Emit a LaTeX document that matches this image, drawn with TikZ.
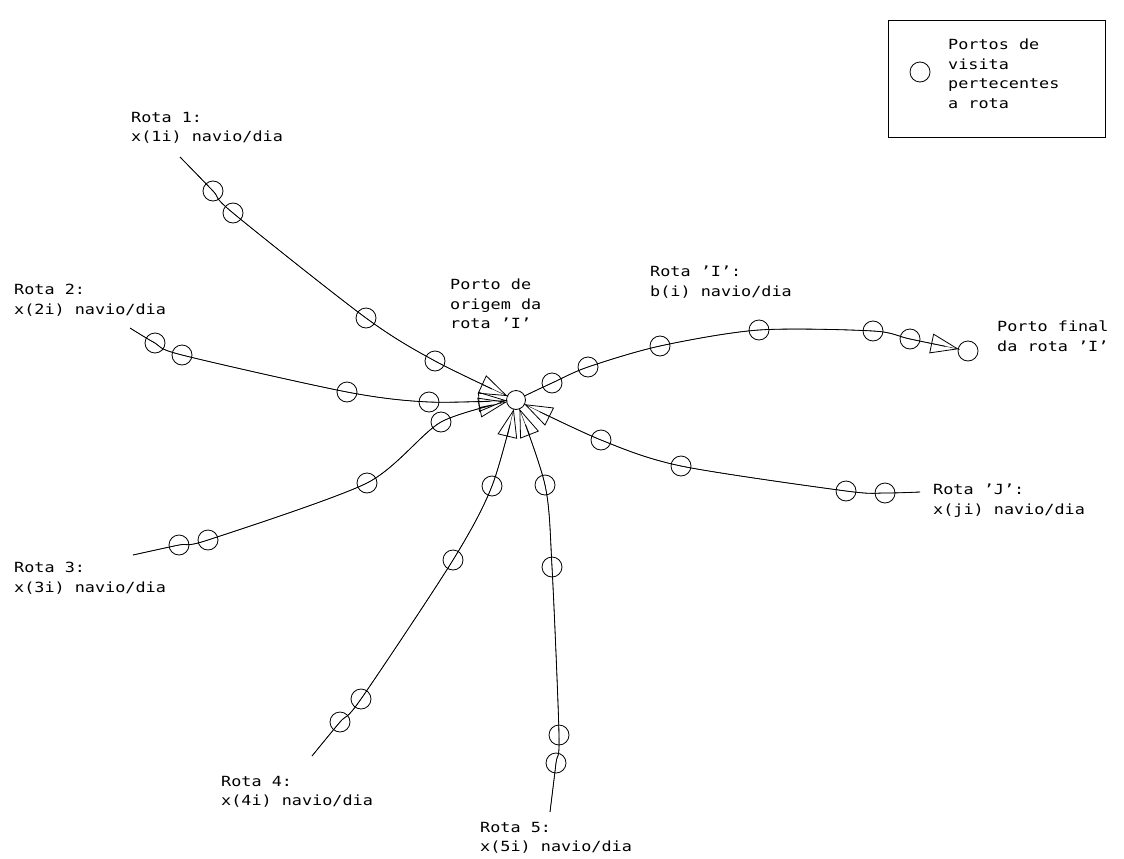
\documentclass[tikz,border=0pt]{standalone}
\usepackage{fontspec}
\setmainfont{DejaVu Sans Mono}[FakeStretch=1.2]
\usetikzlibrary{arrows.meta}
\tikzset{
  rarrow/.style={line width=0.8pt, -{Triangle[open,length=28pt,width=20pt,line width=0.8pt]}, shorten >=9.5pt, preaction={draw, arrows=-}},
  port/.style={circle, draw, line width=0.8pt, minimum size=20pt, inner sep=0pt},
  lbl/.style={anchor=north west, inner sep=0pt, align=left, font=\fontsize{14}{19.5}\selectfont},
}
\begin{document}
\begin{tikzpicture}[x=1pt,y=-1pt]
\useasboundingbox (0,0) rectangle (1124,859);

% central and final ports
\node[port, minimum size=19pt] (O) at (516,400) {};
\node[port] (F) at (968,351) {};

% route 1
\coordinate (s1) at (180,157);
\node[port] (a1) at (213,191) {};
\node[port] (a2) at (233,213) {};
\node[port] (a3) at (366,318) {};
\node[port] (a4) at (435,361) {};
\draw[rarrow] plot[smooth, tension=0.5] coordinates {(s1) (a1.center) (a2.center) (a3.center) (a4.center) (O.center)};

% route 2
\coordinate (s2) at (130,328);
\node[port] (b1) at (155,343) {};
\node[port] (b2) at (182,355) {};
\node[port] (b3) at (347,392) {};
\node[port] (b4) at (429,402) {};
\draw[rarrow] plot[smooth, tension=0.5] coordinates {(s2) (b1.center) (b2.center) (b3.center) (b4.center) (O.center)};

% route 3
\coordinate (s3) at (133,555);
\node[port] (c1) at (179,545) {};
\node[port] (c2) at (208,540) {};
\node[port] (c3) at (367,483) {};
\node[port] (c4) at (441,422) {};
\draw[rarrow] plot[smooth, tension=0.45] coordinates {(s3) (c1.center) (c2.center) (c3.center) (c4.center) (O.center)};

% route 4
\coordinate (s4) at (312,756);
\node[port] (d1) at (340,722) {};
\node[port] (d2) at (361,699) {};
\node[port] (d3) at (453,560) {};
\node[port] (d4) at (492,486) {};
\draw[rarrow] plot[smooth, tension=0.5] coordinates {(s4) (d1.center) (d2.center) (d3.center) (d4.center) (O.center)};

% route 5
\coordinate (s5) at (550,812);
\node[port] (e1) at (556,763) {};
\node[port] (e2) at (559,735) {};
\node[port] (e3) at (552,567) {};
\node[port] (e4) at (545,485) {};
\draw[rarrow] plot[smooth, tension=0.5] coordinates {(s5) (e1.center) (e2.center) (e3.center) (e4.center) (O.center)};

% route J
\coordinate (sj) at (920,492);
\node[port] (j1) at (885,493) {};
\node[port] (j2) at (846,491) {};
\node[port] (j3) at (681,466) {};
\node[port] (j4) at (601,440) {};
\draw[rarrow] plot[smooth, tension=0.5] coordinates {(sj) (j1.center) (j2.center) (j3.center) (j4.center) (O.center)};

% route I
\node[port] (i1) at (552,383) {};
\node[port] (i2) at (588,367) {};
\node[port] (i3) at (660,346) {};
\node[port] (i4) at (759,330) {};
\node[port] (i5) at (873,331) {};
\node[port] (i6) at (910,339) {};
\draw[rarrow, shorten <=9.5pt] plot[smooth, tension=0.5] coordinates {(O.center) (i1.center) (i2.center) (i3.center) (i4.center) (i5.center) (i6.center) (F.center)};

% labels
\node[lbl] (L1) at (131,112) {Rota 1:\\x(1i) navio/dia};
\node[lbl] (L2) at (14,284) {Rota 2:\\x(2i) navio/dia};
\node[lbl] (L3) at (14,562) {Rota 3:\\x(3i) navio/dia};
\node[lbl] (L4) at (221,776) {Rota 4:\\x(4i) navio/dia};
\node[lbl] (L5) at (480,822) {Rota 5:\\x(5i) navio/dia};
\node[lbl] (LJ) at (933,484) {Rota 'J':\\x(ji) navio/dia};
\node[lbl] (LI) at (650,266) {Rota 'I':\\b(i) navio/dia};
\node[lbl] (LO) at (450,279) {Porto de\\origem da\\rota 'I'};
\node[lbl] (LF) at (997,321) {Porto final\\da rota 'I'};

% legend
\node[draw, line width=0.8pt, minimum width=217pt, minimum height=117pt, anchor=north west, inner sep=0pt] (leg) at (888,20) {};
\node[port] (legc) at (920,72) {};
\node[lbl] (legt) at (948,39) {Portos de\\visita\\pertecentes\\a rota};
\end{tikzpicture}
\end{document}
